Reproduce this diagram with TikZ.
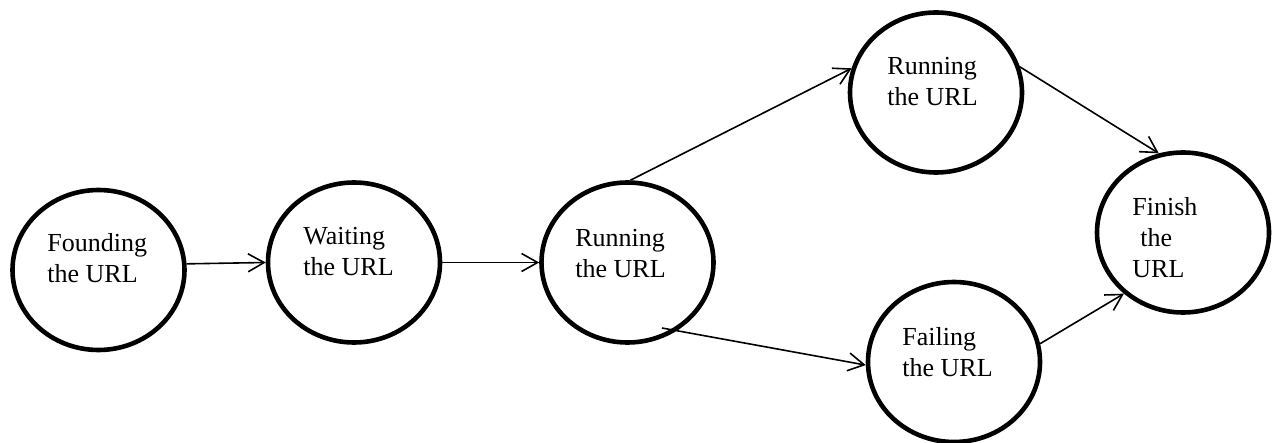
\documentclass[tikz,border=0pt]{standalone}
\usepackage{fontspec}
\setmainfont{Liberation Serif}
\usetikzlibrary{shapes.geometric,arrows.meta,calc}
\tikzset{
  state/.style={ellipse, draw=black, line width=2.3pt, minimum width=86pt, minimum height=80pt, inner sep=0pt},
  lbl/.style={anchor=north west, inner sep=0pt, align=left, font=\fontsize{13pt}{15.5pt}\selectfont},
  conn/.style={line width=0.8pt, -{Straight Barb[length=8pt,width=9pt,line width=0.8pt]}}
}
\begin{document}
\begin{tikzpicture}[x=0.5pt,y=-0.5pt]
\useasboundingbox (0,0) rectangle (1274,443);
% states
\node[state] (f)   at (98.5,270) {};
\node[state] (w)   at (354,262.5) {};
\node[state] (r1)  at (627.5,262.5) {};
\node[state] (r2)  at (936,92.5) {};
\node[state] (fl)  at (954,362) {};
\node[state] (fin) at (1183,232.5) {};
% labels
\node[lbl] (ft)   at (47,233)   {Founding\\the URL};
\node[lbl] (wt)   at (303,227)  {Waiting\\the URL};
\node[lbl] (r1t)  at (575,229)  {Running\\the URL};
\node[lbl] (r2t)  at (887,57)   {Running\\the URL};
\node[lbl] (flt)  at (902,327)  {Failing\\the URL};
\node[lbl] (fint) at (1132,197) {Finish\\\hspace*{4pt}the\\URL};
% connectors
\coordinate (r1s) at ([shift={(34.5,65.5)}]r1.center);
\draw[conn] (f.4) -- (w.west);
\draw[conn] (w.east) -- (r1.west);
\draw[conn] (r1.88) -- (r2.164);
\draw[conn] (r1s) -- (fl.182);
\draw[conn] (r2.17) -- (fin.107);
\draw[conn] (fl.12) -- (fin.226);
\end{tikzpicture}
\end{document}
